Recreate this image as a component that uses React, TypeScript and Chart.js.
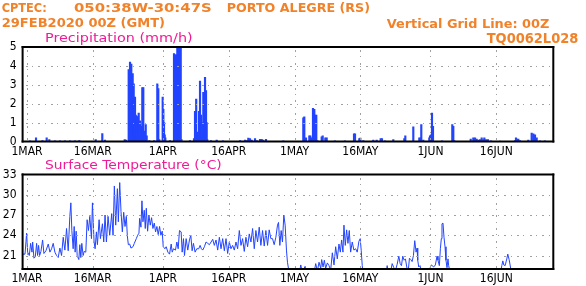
import React, { useEffect, useRef } from "react";
import { Chart, registerables } from "chart.js";
Chart.register(...registerables);

// x unit: days since 29FEB2020 00Z
const tickDays = [1, 16, 32, 47, 62, 77, 93, 108];
const tickLabels = ["1MAR", "16MAR", "1APR", "16APR", "1MAY", "16MAY", "1JUN", "16JUN"];
const precipTicks = [0, 1, 2, 3, 4, 5];
const tempTicks = [21, 24, 27, 30, 33];

const precipDays = [
  1.69, 3.06, 4.54, 5.49, 6.09, 7.39, 8.53, 9.67, 10.81, 11.95, 12.93, 16.67, 18.17, 18.79, 23.28, 23.57,
  24.19, 24.49, 24.78, 25.1, 25.33, 25.47, 25.63, 25.79, 26.01, 26.24, 26.47, 26.77, 27.06, 27.29, 27.52,
  27.75, 28.07, 28.29, 28.9, 30.0, 30.71, 30.94, 31.17, 31.94, 32.09, 32.24, 32.4, 32.54, 33.6, 34.52, 34.75,
  34.97, 35.13, 35.28, 35.43, 35.59, 35.74, 35.89, 36.05, 36.23, 38.17, 39.08, 39.31, 39.58, 39.88, 40.22,
  40.45, 40.68, 40.9, 41.2, 41.43, 41.59, 41.82, 41.97, 42.11, 42.95, 44.25, 45.69, 49.6, 50.71, 51.1, 51.46,
  51.85, 52.23, 52.99, 53.37, 54.13, 54.51, 54.88, 55.5, 59.44, 64.0, 64.23, 64.62, 65.37, 65.6, 65.83, 66.21,
  66.51, 66.74, 66.96, 67.19, 68.19, 68.42, 69.02, 69.33, 71.2, 73.5, 75.56, 75.79, 76.77, 77.0, 77.68, 79.96,
  80.73, 81.64, 81.94, 82.63, 84.52, 87.03, 87.26, 89.08, 90.45, 90.77, 90.9, 91.36, 92.73, 92.89, 93.11,
  93.34, 93.57, 95.62, 97.97, 98.2, 98.43, 102.17, 102.76, 103.15, 103.53, 103.91, 104.29, 104.67, 105.05,
  105.28, 105.66, 106.11, 106.8, 108.85, 112.27, 112.49, 112.72, 113.02, 113.41, 115.3, 116.07, 116.45,
  116.83, 117.21, 117.97, 119.1,
];
const precipValues = [
  0.03, 0.2, 0.05, 0.2, 0.1, 0.03, 0.03, 0.03, 0.03, 0.03, 0.05, 0.1, 0.42, 0.08, 0.1, 0.08,
  3.8, 4.2, 4.1, 3.6, 3.05, 2.2, 2.35, 1.4, 1.35, 1.3, 1.5, 1.1, 0.8, 2.85, 2.85,
  0.55, 0.9, 0.3, 0.05, 0.05, 3.05, 2.8, 0.1, 2.35, 1.7, 1.0, 0.35, 0.2, 0.05, 4.65, 2.2,
  4.6, 4.5, 5.6, 5.6, 5.6, 5.6, 5.6, 5.6, 0.1, 0.05, 0.15, 1.6, 2.25, 0.5, 1.6,
  3.2, 1.4, 1.0, 2.6, 1.1, 3.4, 2.7, 1.0, 0.1, 0.05, 0.07, 0.03, 0.05, 0.08, 0.05, 0.18,
  0.15, 0.08, 0.15, 0.05, 0.12, 0.12, 0.08, 0.12, 0.03, 1.25, 1.3, 0.2, 0.3, 0.3, 0.2, 1.75,
  1.7, 1.4, 1.4, 0.05, 0.25, 0.3, 0.2, 0.2, 0.03, 0.03, 0.4, 0.4, 0.15, 0.18, 0.05, 0.08,
  0.08, 0.15, 0.15, 0.03, 0.1, 0.15, 0.3, 0.78, 0.2, 0.2, 0.9, 0.08, 0.2, 0.3, 0.35,
  1.5, 0.8, 0.03, 0.9, 0.8, 0.05, 0.13, 0.2, 0.2, 0.13, 0.07, 0.1, 0.2, 0.1,
  0.2, 0.1, 0.1, 0.03, 0.02, 0.05, 0.2, 0.13, 0.13, 0.05, 0.07, 0.45, 0.4,
  0.35, 0.2, 0.03, 0.03,
];

const tempDays = [
  0, 0.55, 0.92, 1.15, 1.53, 1.83, 2.14, 2.29, 2.59, 2.89, 3.2, 3.42, 3.65, 3.88, 4.18, 4.56, 4.86, 5.32,
  5.85, 6.23, 6.61, 6.98, 7.36, 7.74, 8.12, 8.5, 8.88, 9.26, 9.64, 10.02, 10.4, 10.77, 11.0, 11.23, 11.53,
  11.76, 11.98, 12.21, 12.44, 12.82, 13.05, 13.27, 13.5, 13.8, 14.03, 14.41, 14.71, 15.02, 15.32, 15.7,
  15.92, 16.3, 16.53, 16.83, 17.06, 17.44, 17.74, 18.2, 18.5, 18.8, 19.11, 19.48, 19.86, 20.32, 20.62,
  20.92, 21.23, 21.61, 21.83, 22.14, 22.44, 22.74, 23.05, 23.35, 23.65, 23.88, 24.11, 24.41, 24.71, 25.17,
  25.47, 25.93, 26.23, 26.53, 26.68, 26.98, 27.21, 27.44, 27.74, 27.97, 28.2, 28.5, 28.8, 29.11, 29.41,
  29.71, 30.02, 30.32, 30.62, 30.92, 31.23, 31.53, 31.83, 32.06, 32.44, 32.74, 33.12, 33.5, 33.88, 34.11,
  34.41, 34.86, 35.17, 35.47, 35.77,
  36.15, 36.38, 36.68, 36.91, 37.29, 37.66, 38.04, 38.35, 38.65, 38.95, 39.33, 39.71, 40.16, 40.47, 40.77,
  41.07, 41.45, 41.83, 42.21, 42.59, 42.97, 43.35, 43.72, 44.1, 44.48, 44.86, 45.24, 45.62, 46.0, 46.38,
  46.75, 47.13, 47.51, 47.89, 48.27, 48.65, 49.03, 49.41, 49.79, 50.16, 50.54, 50.92, 51.3, 51.68, 52.06,
  52.44, 52.82, 53.19, 53.57, 53.95, 54.33, 54.71, 55.09, 55.47, 55.85, 56.22, 56.6, 56.98, 57.36, 57.74,
  58.12, 58.35, 58.65, 58.95, 59.25, 59.56, 59.86, 60.16, 60.39, 60.77, 61.53, 63.04, 63.42, 63.8, 64.41,
  64.79, 66.07, 66.83, 67.21, 67.59, 67.97, 68.19, 68.5, 68.8, 69.1, 69.48, 69.86, 70.24, 70.62, 71.0,
  71.38, 71.75, 72.13, 72.44, 72.74, 73.04, 73.27, 73.57, 73.88, 74.18, 74.48, 74.79, 75.16, 75.54, 75.92,
  76.3, 76.68, 76.98, 77.21, 77.44, 77.82,
  81.23, 82.75, 83.12, 83.35, 83.88, 84.26, 84.64, 85.02, 85.4, 85.78, 86.08, 86.38, 86.68, 86.99, 87.29,
  87.59, 87.9, 88.2, 88.5, 88.81, 89.11, 89.41, 89.71, 89.94, 90.09, 90.32, 90.62, 90.93, 91.84, 92.59,
  92.97, 93.2, 93.73, 94.11, 94.49, 94.71, 95.02, 95.25, 95.47, 95.62, 95.85, 96.08, 96.31, 96.53, 96.76,
  96.99, 97.14, 97.37, 97.52, 108.5, 109.26, 109.49, 109.71, 110.02, 110.4, 110.62, 110.93, 111.15, 111.38,
  111.53, 121,
];
const tempValues = [
  21.2, 21.2, 24.3, 21.5, 21.0, 22.8, 21.5, 23.0, 20.6, 20.8, 22.8, 21.0, 22.5, 21.0, 21.6, 23.3, 21.3, 21.7,
  22.7, 21.5, 22.0, 22.8, 21.5, 21.0, 20.7, 22.1, 21.0, 23.7, 21.8, 25.0, 21.7, 26.8, 28.8, 24.7, 22.0,
  25.3, 21.5, 24.6, 21.0, 20.4, 22.6, 20.7, 22.8, 21.0, 21.6, 21.5, 26.3, 24.7, 26.8, 23.5,
  28.8, 23.0, 22.0, 24.5, 22.6, 26.3, 23.5, 25.7, 23.0, 27.0, 23.0, 26.8, 24.0, 27.2, 24.0,
  31.3, 25.5, 30.9, 26.0, 31.8, 27.5, 24.5, 27.4, 25.3, 26.8, 23.9, 22.6, 22.7, 22.1, 22.3,
  22.8, 23.5, 24.0, 24.3, 26.5, 25.2, 29.1, 26.0, 27.7, 25.0, 28.0, 24.6, 27.0, 25.5, 26.6,
  25.0, 25.8, 24.5, 25.3, 24.1, 25.3, 24.0, 24.6, 22.3, 22.0, 22.3, 21.5, 21.2, 22.7, 21.5,
  22.0, 21.8, 23.0, 22.0, 24.7,
  24.5, 21.5, 23.5, 21.0, 23.5, 21.8, 23.3, 24.0, 21.7, 22.8, 21.5, 22.0, 22.0, 22.5, 22.0,
  21.8, 22.3, 23.0, 22.8, 22.6, 23.0, 23.4, 22.5, 23.3, 21.8, 23.7, 22.0, 23.5, 21.7, 23.5,
  21.3, 23.0, 22.0, 22.5, 21.8, 23.0, 22.0, 24.7, 22.5, 23.5, 21.6, 23.7, 22.3, 24.2, 23.0,
  25.0, 22.0, 24.7, 23.0, 25.2, 22.5, 24.7, 22.4, 24.7, 22.5, 24.8, 23.5, 23.5, 22.6, 23.7,
  25.5, 25.9, 22.5, 24.7, 23.0, 27.0, 25.5, 21.8, 20.0, 18.5, 17.0, 18.0, 19.6, 18.5, 19.4,
  18.0, 17.0, 19.8, 18.7, 20.0, 19.1, 20.4, 19.3, 20.3, 19.1, 19.9, 19.5, 18.8, 21.4, 19.6,
  22.3, 20.5, 22.7, 21.5, 23.3, 21.5, 25.5, 22.5, 24.8, 22.8, 24.7, 21.5, 23.0, 21.8, 22.0,
  21.5, 23.1, 23.5, 21.7, 19.5, 17.0,
  17.0, 17.5, 19.5, 18.5, 18.5, 19.8, 19.2, 18.8, 19.7, 20.9, 19.8, 19.5, 20.9, 20.3, 20.5,
  19.3, 18.5, 20.6, 20.4, 20.1, 21.0, 23.2, 21.5, 22.1, 20.3, 19.3, 19.5, 18.5, 17.0, 18.0,
  19.3, 19.6, 19.3, 19.6, 20.9, 20.3, 19.5, 22.0, 23.5, 25.7, 25.8, 23.7, 22.3, 20.3, 19.2,
  20.5, 19.5, 18.8, 17.0, 17.0, 19.5, 20.2, 19.6, 19.5, 20.5, 21.2, 20.4, 19.6, 18.7,
  17.0, 17.0,
];

const X_MIN = 0;
const X_MAX = 121;
const W = 586;
const H = 286;
const PLOT_LEFT = 22.6;
const PLOT_RIGHT = 553.3;

const ORANGE = "#f0822a";
const PINK = "#ee1c96";
const BLUE = "#2244ff";
const GRID = "#a0a0a0";
const TICK_FONT = "'Liberation Sans Narrow', 'DejaVu Sans Condensed', 'DejaVu Sans', sans-serif";
const HEAD_FONT = "'DejaVu Sans', sans-serif";

type TextItem = { text: string; x: number; y: number; w: number; size: number; color: string; bold?: boolean };

const headerTexts: TextItem[] = [
  { text: "CPTEC:", x: 1.7, y: 12, w: 45, size: 13, color: ORANGE, bold: true },
  { text: "050:38W-30:47S", x: 74, y: 12, w: 137.7, size: 13, color: ORANGE, bold: true },
  { text: "PORTO ALEGRE (RS)", x: 226.7, y: 12, w: 143.3, size: 13, color: ORANGE, bold: true },
  { text: "29FEB2020 00Z (GMT)", x: 1.7, y: 27.3, w: 163.3, size: 13, color: ORANGE, bold: true },
  { text: "Vertical Grid Line: 00Z", x: 386.7, y: 27.7, w: 162.7, size: 12, color: ORANGE, bold: true },
  { text: "TQ0062L028", x: 486.7, y: 42.7, w: 91.6, size: 14, color: ORANGE, bold: true },
  { text: "Precipitation (mm/h)", x: 45, y: 41.7, w: 147.7, size: 13, color: PINK },
];
const tempTexts: TextItem[] = [
  { text: "Surface Temperature (°C)", x: 45, y: 169.3, w: 176.7, size: 12, color: PINK },
];

function drawFit(ctx: CanvasRenderingContext2D, t: TextItem) {
  ctx.save();
  ctx.font = `${t.bold ? "bold " : ""}${t.size}px ${HEAD_FONT}`;
  ctx.fillStyle = t.color;
  ctx.textBaseline = "alphabetic";
  ctx.textAlign = "left";
  const m = ctx.measureText(t.text).width;
  ctx.translate(t.x, t.y);
  ctx.scale(t.w / m, 1);
  ctx.fillText(t.text, 0, 0);
  ctx.restore();
}

function makePlugin(texts: TextItem[], yTicks: number[]) {
  return {
    id: "frameGridText",
    afterDatasetsDraw(chart: any) {
      const ctx: CanvasRenderingContext2D = chart.ctx;
      const a = chart.chartArea;
      const { left, right, top, bottom } = a;
      const xs = chart.scales.x;
      const ys = chart.scales.y;

      // dotted grid lines on the tick positions
      ctx.save();
      ctx.fillStyle = GRID;
      for (const d of tickDays) {
        const px = Math.round(xs.getPixelForValue(d));
        let k = 0;
        for (let y = top + 3; y < bottom - 1; y += 6.3, k++) ctx.fillRect(px, Math.round(y), 1, k % 2 ? 1 : 2);
      }
      for (const v of yTicks) {
        const py = Math.round(ys.getPixelForValue(v));
        if (py <= top + 1 || py >= bottom - 1) continue;
        let k = 0;
        for (let x = left + 3; x < right - 1; x += 6.3, k++) ctx.fillRect(Math.round(x), py, k % 2 ? 1 : 2, 1);
      }
      ctx.restore();

      // frame
      ctx.save();
      ctx.fillStyle = "#000";
      ctx.fillRect(left - 1, top - 1, 2, bottom - top + 2);
      ctx.fillRect(right - 1, top - 1, 2, bottom - top + 2);
      ctx.fillRect(left - 1, bottom - 1, right - left + 2, 2);
      ctx.fillRect(left - 1, top - 1, right - left + 2, 2);
      ctx.restore();

      texts.forEach((t) => drawFit(ctx, t));
    },
  };
}

function xScaleOpts(height: number) {
  return {
    type: "linear" as const,
    min: X_MIN,
    max: X_MAX,
    offset: false,
    afterBuildTicks: (s: any) => {
      s.ticks = tickDays.map((v) => ({ value: v }));
    },
    afterFit: (s: any) => {
      s.height = height;
    },
    ticks: {
      autoSkip: false,
      maxRotation: 0,
      padding: 3,
      color: "#000",
      font: { family: TICK_FONT, size: 12 },
      callback: (_v: any, i: number) => tickLabels[i],
    },
    grid: { display: false, drawTicks: false, offset: false },
    border: { display: false },
  };
}

function yScaleOpts(min: number, max: number, ticks: number[]) {
  return {
    type: "linear" as const,
    min,
    max,
    afterBuildTicks: (s: any) => {
      s.ticks = ticks.map((v) => ({ value: v }));
    },
    afterFit: (s: any) => {
      s.width = PLOT_LEFT;
    },
    ticks: { padding: 6, color: "#000", font: { family: TICK_FONT, size: 12 } },
    grid: { display: false, drawTicks: false },
    border: { display: false },
  };
}

export default function App() {
  const r1 = useRef<HTMLCanvasElement>(null);
  const r2 = useRef<HTMLCanvasElement>(null);

  useEffect(() => {
    const common = {
      responsive: false,
      animation: false as const,
      events: [] as any[],
      plugins: { legend: { display: false }, tooltip: { enabled: false } },
    };
    const c1 = new Chart(r1.current!, {
      type: "bar",
      data: {
        datasets: [
          {
            data: precipDays.map((d, i) => ({ x: d, y: precipValues[i] })),
            backgroundColor: BLUE,
            borderWidth: 0,
            barThickness: 1.5,
            clip: 0,
          } as any,
        ],
      },
      options: {
        ...common,
        layout: { padding: { top: 47, left: 0, right: W - PLOT_RIGHT, bottom: H - 141.5 - 20 } },
        scales: { x: xScaleOpts(20), y: yScaleOpts(0, 5, precipTicks) },
      } as any,
      plugins: [makePlugin(headerTexts, precipTicks)],
    });
    const c2 = new Chart(r2.current!, {
      type: "line",
      data: {
        datasets: [
          {
            data: tempDays.map((d, i) => ({ x: d, y: tempValues[i] })),
            borderColor: BLUE,
            borderWidth: 1,
            pointRadius: 0,
            tension: 0,
            clip: 0,
          } as any,
        ],
      },
      options: {
        ...common,
        layout: { padding: { top: 174.5, left: 0, right: W - PLOT_RIGHT, bottom: 0 } },
        scales: { x: xScaleOpts(H - 269), y: yScaleOpts(19, 33, tempTicks) },
      } as any,
      plugins: [makePlugin(tempTexts, tempTicks)],
    });
    return () => {
      c1.destroy();
      c2.destroy();
    };
  }, []);

  return (
    <div style={{ position: "fixed", left: 0, top: 0, width: W, height: H, background: "#fff" }}>
      <canvas ref={r1} width={W} height={H} style={{ position: "absolute", left: 0, top: 0 }} />
      <canvas ref={r2} width={W} height={H} style={{ position: "absolute", left: 0, top: 0 }} />
    </div>
  );
}
